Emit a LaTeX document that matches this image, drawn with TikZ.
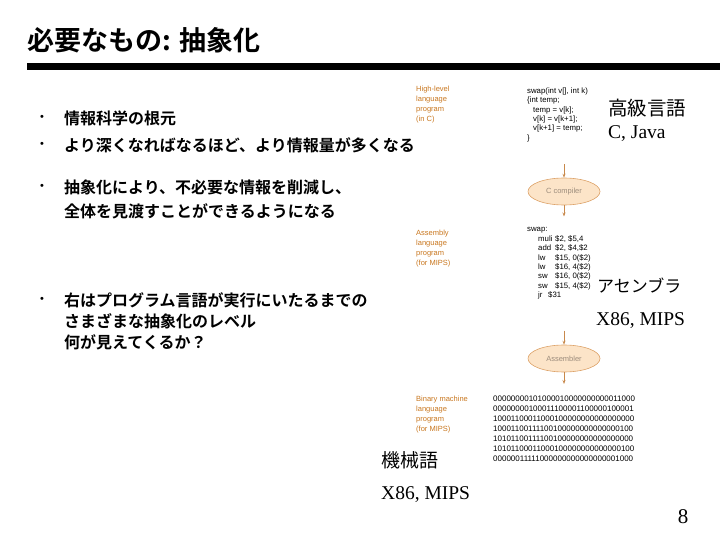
\documentclass[tikz,border=0pt]{standalone}
\usepackage{fontspec}
\setmainfont{Liberation Serif}
\setsansfont{Liberation Sans}
\newfontfamily\jpfont{Noto Sans CJK JP}
\newfontfamily\jpbfont{Noto Sans CJK JP Bold}
\usepackage{xcolor}
\definecolor{TagOrange}{HTML}{C8761E}
\definecolor{StageFill}{HTML}{FCE4C8}
\definecolor{StageLine}{HTML}{DDA36A}
\definecolor{StageText}{HTML}{9C8C7C}
\definecolor{ArrOrange}{HTML}{C8894C}
\usetikzlibrary{shapes.geometric, arrows.meta}
\newcommand\asmop[1]{\makebox[17pt][l]{#1}}
\tikzset{
  ttl/.style={anchor=west, inner sep=0pt, font=\jpbfont\fontsize{27}{30}\selectfont},
  bl/.style={anchor=west, align=left, inner sep=0pt, font=\jpbfont\fontsize{16}{#1}\selectfont},
  bl/.default=24,
  dot/.style={anchor=center, inner sep=0pt, font=\sffamily\fontsize{11}{11}\selectfont},
  tag/.style={anchor=north west, align=left, inner sep=0pt, text=TagOrange,
              font=\sffamily\fontsize{7.5}{#1}\selectfont},
  tag/.default=10,
  code/.style={anchor=north west, align=left, inner sep=0pt,
               font=\sffamily\fontsize{7.8}{#1}\selectfont},
  code/.default=9.4,
  lvl/.style={anchor=west, inner sep=0pt, font=\jpfont\fontsize{#1}{#1}\selectfont},
  lvl/.default=19.5,
  sub/.style={anchor=west, inner sep=0pt, font=\rmfamily\fontsize{19.5}{20}\selectfont},
  stage/.style={ellipse, draw=StageLine, fill=StageFill, line width=0.6pt,
                minimum width=72pt, minimum height=27pt, inner sep=0pt,
                text=StageText, font=\sffamily\fontsize{7.5}{8}\selectfont},
  arr/.style={-{Stealth[length=4pt, width=3pt]}, line width=0.7pt, color=ArrOrange},
}

\begin{document}
\begin{tikzpicture}[x=1pt, y=-1pt]
  \useasboundingbox (0,0) rectangle (720,540);

  % Title and rule
  \node[ttl] (title) at (27,40) {必要なもの: 抽象化};
  \fill (27,63) rectangle (720,70);

  % Bullets
  \node[dot] (d1) at (42,118) {•};
  \node[bl] (b1) at (64,118) {情報科学の根元};
  \node[dot] (d2) at (42,145) {•};
  \node[bl] (b2) at (64,145) {より深くなればなるほど、より情報量が多くなる};
  \node[dot] (d3) at (42,187) {•};
  \node[bl] (b3) at (64,199)
    {抽象化により、不必要な情報を削減し、\\全体を見渡すことができるようになる};
  \node[dot] (d4) at (42,300) {•};
  \node[bl=21] (b4) at (64,321)
    {右はプログラム言語が実行にいたるまでの\\さまざまな抽象化のレベル\\何が見えてくるか？};

  % High-level
  \node[tag] (hlTag) at (416,86) {High-level\\language\\program\\(in C)};
  \node[code] (cCode) at (527,87.5)
    {swap(int v[], int k)\\\{int temp;\\\hspace*{6pt}temp = v[k];\\
     \hspace*{6pt}v[k] = v[k+1];\\\hspace*{6pt}v[k+1] = temp;\\\}};
  \node[lvl] (hll) at (608,108.5) {高級言語};
  \node[sub] (hlSub) at (608,134) {C, Java};

  % C compiler
  \node[stage] (ccomp) at (564,191.5) {C compiler};

  % Assembly
  \node[tag] (asmTag) at (416,230) {Assembly\\language\\program\\(for MIPS)};
  \node[code] (asmCode) at (527,227.5)
    {swap:\\
     \hspace*{11pt}\asmop{muli}\$2, \$5,4\\
     \hspace*{11pt}\asmop{add}\$2, \$4,\$2\\
     \hspace*{11pt}\asmop{lw}\$15, 0(\$2)\\
     \hspace*{11pt}\asmop{lw}\$16, 4(\$2)\\
     \hspace*{11pt}\asmop{sw}\$16, 0(\$2)\\
     \hspace*{11pt}\asmop{sw}\$15, 4(\$2)\\
     \hspace*{11pt}\makebox[10pt][l]{jr}\$31};
  \node[lvl=17] (asl) at (597,286) {アセンブラ};
  \node[sub] (asSub) at (596,321) {X86, MIPS};

  % Assembler
  \node[stage] (asmr) at (564,358.5) {Assembler};

  % Binary
  \node[tag] (binTag) at (416,395.5) {Binary machine\\language\\program\\(for MIPS)};
  \node[code=10, font=\sffamily\fontsize{8}{10}\selectfont] (binCode) at (493,396)
    {00000000101000010000000000011000\\
     00000000100011100001100000100001\\
     10001100011000100000000000000000\\
     10001100111100100000000000000100\\
     10101100111100100000000000000000\\
     10101100011000100000000000000100\\
     00000011111000000000000000001000};
  \node[lvl=19] (mcl) at (381,460) {機械語};
  \node[sub] (mcSub) at (381,495) {X86, MIPS};

  % Page number
  \node[inner sep=0pt, font=\rmfamily\fontsize{21}{21}\selectfont] (pgn) at (683,517) {8};

  % Arrows
  \draw[arr, shorten <=22pt] (cCode.south -| ccomp.north) -- (ccomp.north);
  \draw[arr, shorten >=11pt] (ccomp.south) -- (ccomp.south |- asmCode.north);
  \draw[arr, shorten <=31pt] (asmCode.south -| asmr.north) -- (asmr.north);
  \draw[arr, shorten >=12pt] (asmr.south) -- (asmr.south |- binCode.north);

\end{tikzpicture}
\end{document}
